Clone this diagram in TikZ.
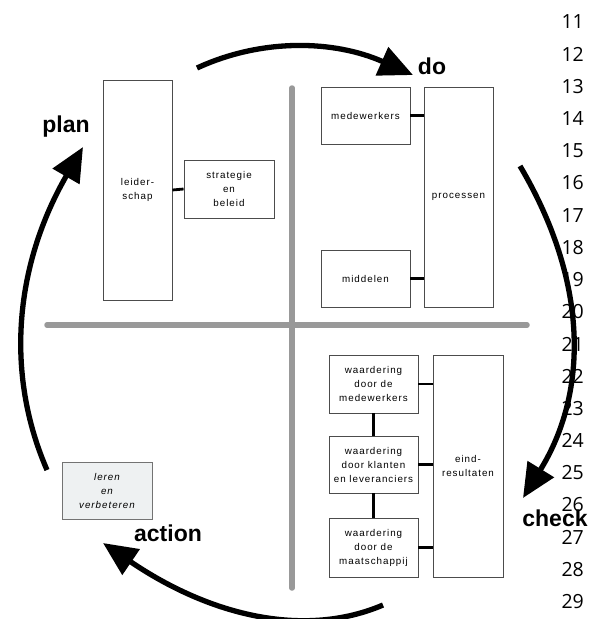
\documentclass[tikz,border=0pt]{standalone}
\usepackage{fontspec}
\setmainfont{Liberation Sans}
\newfontfamily\boxfont[LetterSpace=10]{Liberation Sans}
\newfontfamily\numfont{Open Sans}
\usetikzlibrary{arrows.meta}
\definecolor{lerenvul}{HTML}{EEF1F2}

\tikzstyle{every node}=[inner sep=2pt, align=center]
\tikzstyle{blok}=[draw=black!70, line width=0.9pt, font={\boxfont\fontsize{9.8}{14}\selectfont}]
\tikzstyle{breed}=[blok, minimum width=89pt, minimum height=57pt]
\tikzstyle{hoog}=[blok, minimum width=69pt, minimum height=220pt]
\tikzstyle{leren}=[breed, draw=black!55, fill=lerenvul, font={\boxfont\itshape\fontsize{9.8}{14}\selectfont}]
\tikzstyle{link}=[line width=2.8pt]
\tikzstyle{kruis}=[line width=5.5pt, black!40, line cap=round]
\tikzstyle{fase}=[font={\bfseries\fontsize{23}{24}\selectfont}]
\tikzstyle{cyclus}=[line width=5.3pt, -{Triangle[length=34pt, width=30pt]}]
\tikzstyle{lineno}=[anchor=east, inner sep=0pt, font={\numfont\fontsize{19.5}{20}\selectfont}]

\begin{document}
\begin{tikzpicture}[x=1pt, y=-1pt]
    \useasboundingbox (0,0) rectangle (591,619);

    % kruis
    \coordinate (vtop) at (292,88);
    \coordinate (vbot) at (292,588);
    \coordinate (hlinks) at (47,325);
    \coordinate (hrechts) at (527,325);
    \draw [kruis] (vtop) -- (vbot);
    \draw [kruis] (hlinks) -- (hrechts);

    % plan
    \node [hoog] (leider) at (137.5,190) {leider-\\schap};
    \node [breed, minimum width=90pt, minimum height=58pt] (strategie) at (229,189) {strategie\\en\\beleid};
    \draw [link] (leider.east) -- (strategie.west);

    % do
    \node [breed] (medewerkers) at (365.5,115.5) {medewerkers};
    \node [breed] (middelen) at (365.5,278.5) {middelen};
    \node [hoog] (processen) at (458.5,197) {processen};
    \draw [link] (medewerkers.east) -- (medewerkers.east -| processen.west);
    \draw [link] (middelen.east) -- (middelen.east -| processen.west);

    % check
    \node [breed, minimum height=58pt] (wmedew) at (373.5,384) {waardering\\door de\\medewerkers};
    \node [breed] (wklant) at (373.5,464.5) {waardering\\door klanten\\en leveranciers};
    \node [breed, minimum height=59pt] (wmaat) at (373.5,547.5) {waardering\\door de\\maatschappij};
    \node [hoog, minimum width=70pt, minimum height=222pt] (eind) at (468,466) {eind-\\resultaten};
    \draw [link] (wmedew.south) -- (wklant.north);
    \draw [link] (wklant.south) -- (wmaat.north);
    \draw [link] (wmedew.east) -- (wmedew.east -| eind.west);
    \draw [link] (wklant.east) -- (wklant.east -| eind.west);
    \draw [link] (wmaat.east) -- (wmaat.east -| eind.west);

    % action
    \node [leren, minimum width=90pt] (verbeteren) at (107,490.5) {leren\\en\\verbeteren};

    % regelnummers
    \foreach \n in {11,...,29}
        \node [lineno] (r\n) at (584,{22+(\n-11)*32.2}) {\n};

    % fasen
    \node [fase] (plan) at (66,127) {plan};
    \node [fase] (do) at (432,66) {do};
    \node [fase] (check) at (555,518) {check};
    \node [fase] (action) at (168,533) {action};

    % pijlen
    \coordinate (p1) at (197,68);
    \coordinate (p2) at (413,75);
    \coordinate (p3) at (520,166);
    \coordinate (p4) at (523,498);
    \coordinate (p5) at (383,605);
    \coordinate (p6) at (103,543);
    \coordinate (p7) at (47,470);
    \coordinate (p8) at (83,147);
    \draw [cyclus] (p1) .. controls (262,38) and (334,40) .. (p2);
    \draw [cyclus] (p3) .. controls (588,281) and (589,391) .. (p4);
    \draw [cyclus] (p5) .. controls (306,638) and (212,617) .. (p6);
    \draw [cyclus] (p7) .. controls (4,371) and (16,263) .. (p8);
\end{tikzpicture}
\end{document}
